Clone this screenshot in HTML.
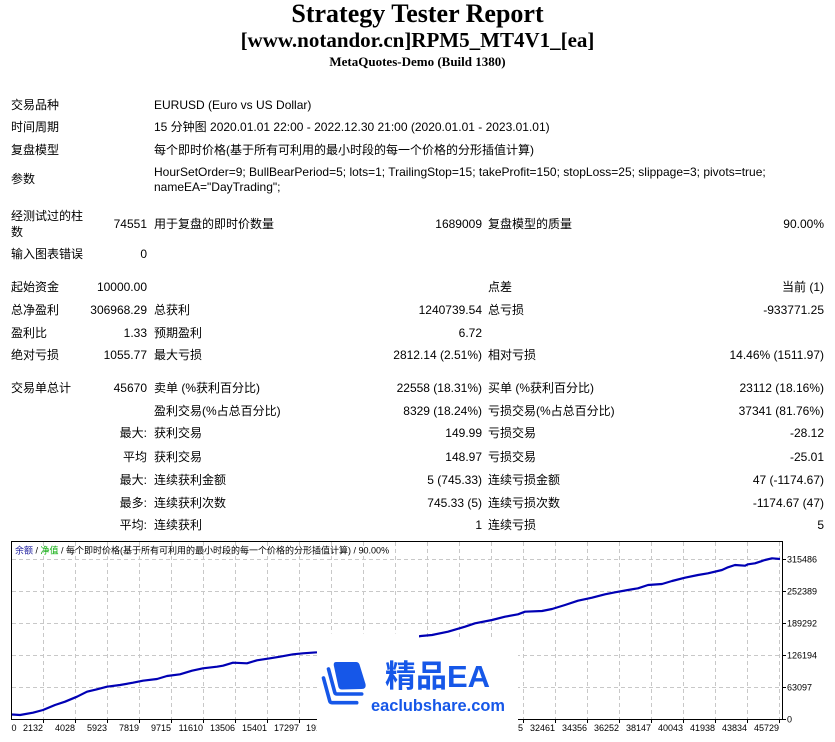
<!DOCTYPE html>
<html><head><meta charset="utf-8">
<style>
html,body{margin:0;padding:0;background:#fff;}
body{width:835px;height:742px;position:relative;overflow:hidden;}
.t{position:absolute;white-space:nowrap;font-family:"Liberation Sans","Noto Sans CJK SC",sans-serif;font-size:12px;line-height:15px;color:#000;}
.h{position:absolute;left:0;width:835px;text-align:center;font-family:"Liberation Serif",serif;font-weight:bold;color:#000;white-space:nowrap;}
.r{text-align:right;}
</style></head><body>
<div class="h" style="top:-1px;font-size:26px;line-height:30px;">Strategy Tester Report</div>
<div class="h" style="top:27.6px;font-size:21px;line-height:24px;">[www.notandor.cn]RPM5_MT4V1_[ea]</div>
<div class="h" style="top:54.3px;font-size:13px;line-height:16px;">MetaQuotes-Demo (Build 1380)</div>

<div class="t" style="left:11px;top:97.5px">交易品种</div>
<div class="t" style="left:154px;top:97.5px">EURUSD (Euro vs US Dollar)</div>

<div class="t" style="left:11px;top:120px">时间周期</div>
<div class="t" style="left:154px;top:120px">15 分钟图 2020.01.01 22:00 - 2022.12.30 21:00 (2020.01.01 - 2023.01.01)</div>

<div class="t" style="left:11px;top:142.5px">复盘模型</div>
<div class="t" style="left:154px;top:142.5px">每个即时价格(基于所有可利用的最小时段的每一个价格的分形插值计算)</div>

<div class="t" style="left:11px;top:172px">参数</div>
<div class="t" style="left:154px;top:164.5px">HourSetOrder=9; BullBearPeriod=5; lots=1; TrailingStop=15; takeProfit=150; stopLoss=25; slippage=3; pivots=true;<br>nameEA="DayTrading";</div>

<div class="t" style="left:11px;top:209px;line-height:15.5px">经测试过的柱<br>数</div>
<div class="t r" style="right:688px;top:217px">74551</div>
<div class="t" style="left:154px;top:217px">用于复盘的即时价数量</div>
<div class="t r" style="right:353px;top:217px">1689009</div>
<div class="t" style="left:488px;top:217px">复盘模型的质量</div>
<div class="t r" style="right:11px;top:217px">90.00%</div>

<div class="t" style="left:11px;top:247px">输入图表错误</div>
<div class="t r" style="right:688px;top:247px">0</div>

<div class="t" style="left:11px;top:279.5px">起始资金</div>
<div class="t r" style="right:688px;top:279.5px">10000.00</div>
<div class="t" style="left:488px;top:279.5px">点差</div>
<div class="t r" style="right:11px;top:279.5px">当前 (1)</div>

<div class="t" style="left:11px;top:302.5px">总净盈利</div>
<div class="t r" style="right:688px;top:302.5px">306968.29</div>
<div class="t" style="left:154px;top:302.5px">总获利</div>
<div class="t r" style="right:353px;top:302.5px">1240739.54</div>
<div class="t" style="left:488px;top:302.5px">总亏损</div>
<div class="t r" style="right:11px;top:302.5px">-933771.25</div>

<div class="t" style="left:11px;top:325.5px">盈利比</div>
<div class="t r" style="right:688px;top:325.5px">1.33</div>
<div class="t" style="left:154px;top:325.5px">预期盈利</div>
<div class="t r" style="right:353px;top:325.5px">6.72</div>

<div class="t" style="left:11px;top:348px">绝对亏损</div>
<div class="t r" style="right:688px;top:348px">1055.77</div>
<div class="t" style="left:154px;top:348px">最大亏损</div>
<div class="t r" style="right:353px;top:348px">2812.14 (2.51%)</div>
<div class="t" style="left:488px;top:348px">相对亏损</div>
<div class="t r" style="right:11px;top:348px">14.46% (1511.97)</div>

<div class="t" style="left:11px;top:380.5px">交易单总计</div>
<div class="t r" style="right:688px;top:380.5px">45670</div>
<div class="t" style="left:154px;top:380.5px">卖单 (%获利百分比)</div>
<div class="t r" style="right:353px;top:380.5px">22558 (18.31%)</div>
<div class="t" style="left:488px;top:380.5px">买单 (%获利百分比)</div>
<div class="t r" style="right:11px;top:380.5px">23112 (18.16%)</div>

<div class="t" style="left:154px;top:403.5px">盈利交易(%占总百分比)</div>
<div class="t r" style="right:353px;top:403.5px">8329 (18.24%)</div>
<div class="t" style="left:488px;top:403.5px">亏损交易(%占总百分比)</div>
<div class="t r" style="right:11px;top:403.5px">37341 (81.76%)</div>

<div class="t r" style="right:688px;top:426px">最大:</div>
<div class="t" style="left:154px;top:426px">获利交易</div>
<div class="t r" style="right:353px;top:426px">149.99</div>
<div class="t" style="left:488px;top:426px">亏损交易</div>
<div class="t r" style="right:11px;top:426px">-28.12</div>

<div class="t r" style="right:688px;top:449.5px">平均</div>
<div class="t" style="left:154px;top:449.5px">获利交易</div>
<div class="t r" style="right:353px;top:449.5px">148.97</div>
<div class="t" style="left:488px;top:449.5px">亏损交易</div>
<div class="t r" style="right:11px;top:449.5px">-25.01</div>

<div class="t r" style="right:688px;top:472.5px">最大:</div>
<div class="t" style="left:154px;top:472.5px">连续获利金额</div>
<div class="t r" style="right:353px;top:472.5px">5 (745.33)</div>
<div class="t" style="left:488px;top:472.5px">连续亏损金额</div>
<div class="t r" style="right:11px;top:472.5px">47 (-1174.67)</div>

<div class="t r" style="right:688px;top:495.5px">最多:</div>
<div class="t" style="left:154px;top:495.5px">连续获利次数</div>
<div class="t r" style="right:353px;top:495.5px">745.33 (5)</div>
<div class="t" style="left:488px;top:495.5px">连续亏损次数</div>
<div class="t r" style="right:11px;top:495.5px">-1174.67 (47)</div>

<div class="t r" style="right:688px;top:518px">平均:</div>
<div class="t" style="left:154px;top:518px">连续获利</div>
<div class="t r" style="right:353px;top:518px">1</div>
<div class="t" style="left:488px;top:518px">连续亏损</div>
<div class="t r" style="right:11px;top:518px">5</div>

<svg style="position:absolute;left:0;top:0" width="835" height="742" viewBox="0 0 835 742" xmlns="http://www.w3.org/2000/svg">
  <g stroke="#c8c8c8" stroke-width="1" stroke-dasharray="4 3" fill="none">
    <path d="M43.5 542V719M75.5 542V719M107.5 542V719M139.5 542V719M171.5 542V719M203.5 542V719M235.5 542V719M267.5 542V719M299.5 542V719M331.5 542V719M363.5 542V719M395.5 542V719M427.5 542V719M459.5 542V719M491.5 542V719M523.5 542V719M555.5 542V719M587.5 542V719M619.5 542V719M651.5 542V719M683.5 542V719M715.5 542V719M747.5 542V719M779.5 542V719"/>
    <path d="M12 559.5H782M12 591.5H782M12 623.5H782M12 655.5H782M12 687.5H782"/>
  </g>
  <g stroke="#000" stroke-width="1" fill="none">
    <path d="M11.5 541.5H782.5V719.5H11.5Z"/>
    <path d="M43.5 719V723M75.5 719V723M107.5 719V723M139.5 719V723M171.5 719V723M203.5 719V723M235.5 719V723M267.5 719V723M299.5 719V723M331.5 719V723M363.5 719V723M395.5 719V723M427.5 719V723M459.5 719V723M491.5 719V723M523.5 719V723M555.5 719V723M587.5 719V723M619.5 719V723M651.5 719V723M683.5 719V723M715.5 719V723M747.5 719V723M779.5 719V723"/>
    <path d="M782 559.5H786M782 591.5H786M782 623.5H786M782 655.5H786M782 687.5H786M782 719.5H786"/>
  </g>
  <polyline fill="none" stroke="#0000b4" stroke-width="2.2" stroke-linejoin="round" points="12,714.5 20,715 33,712.7 43,710 55,705 65,701.7 77,696.7 87,691.7 97,689.3 107,686.7 120,685 133,682.7 143,680.7 157,679 167,676 180,674.3 192,670.7 203,668.3 217,666.7 223,665.7 233,662.7 247,663.3 257,660.3 270,658.3 280,656.7 293,654.3 303,653.3 317,652.3 421,636 432,635 448,631.7 465,626.7 475,623.3 492,620 505,616.7 518,614.3 525,611.7 542,611 552,609 565,605 578,600.7 592,597.7 605,594.3 615,592.3 628,590 638,588.3 648,585 662,584 672,581 685,577.7 698,575 708,573.3 722,570 728,567.3 735,565 745,565.7 748,564.3 755,563.3 765,560 772,558.3 780,559"/>
  <text x="15" y="553.3" font-family="Liberation Sans, Noto Sans CJK SC, sans-serif" font-size="9" fill="#000"><tspan fill="#1a1a9c">余额</tspan> / <tspan fill="#00a800">净值</tspan> / 每个即时价格(基于所有可利用的最小时段的每一个价格的分形插值计算) / 90.00%</text>
  <g font-family="Liberation Sans, sans-serif" font-size="9" fill="#000">
    <text x="787" y="562.3">315486</text>
    <text x="787" y="594.3">252389</text>
    <text x="787" y="626.3">189292</text>
    <text x="787" y="658.3">126194</text>
    <text x="787" y="690.3">63097</text>
    <text x="787" y="722.3">0</text>
  </g>
  <g font-family="Liberation Sans, sans-serif" font-size="9" fill="#000" text-anchor="end">
    <text x="16.5" y="731">0</text>
    <text x="43" y="731">2132</text><text x="75" y="731">4028</text><text x="107" y="731">5923</text><text x="139" y="731">7819</text>
    <text x="171" y="731">9715</text><text x="203" y="731">11610</text><text x="235" y="731">13506</text><text x="267" y="731">15401</text>
    <text x="299" y="731">17297</text><text x="331" y="731">19192</text><text x="363" y="731">21088</text><text x="395" y="731">22984</text>
    <text x="427" y="731">24879</text><text x="459" y="731">26775</text><text x="491" y="731">28670</text><text x="523" y="731">30565</text>
    <text x="555" y="731">32461</text><text x="587" y="731">34356</text><text x="619" y="731">36252</text><text x="651" y="731">38147</text>
    <text x="683" y="731">40043</text><text x="715" y="731">41938</text><text x="747" y="731">43834</text><text x="779" y="731">45729</text>
  </g>
  <!-- watermark -->
  <path d="M317 633.5H419V638H518V742H317Z" fill="#fff"/>
  <path d="M336 662L356 662Q358.5 662 359.5 664.5L365.5 684Q366.5 689 361.5 689L342 689.5Q339 689.5 338.3 686.5L333.8 665.5Q333.3 662 336 662Z" fill="#1657e8"/>
  <path d="M328.5 669L334.8 692.5Q335.3 694 337 694L361.7 694" fill="none" stroke="#1657e8" stroke-width="3.6" stroke-linecap="round" stroke-linejoin="round"/>
  <path d="M323.5 678L329.8 701.2Q330.3 702.7 332 702.7L356.7 702.7" fill="none" stroke="#1657e8" stroke-width="3.6" stroke-linecap="round" stroke-linejoin="round"/>
  <text x="385" y="687" font-family="Liberation Sans, Noto Sans CJK SC, sans-serif" font-size="31" font-weight="bold" fill="#1657e8">精品EA</text>
  <text x="371" y="711" font-family="Liberation Sans, sans-serif" font-size="16.4" font-weight="bold" fill="#1657e8">eaclubshare.com</text>
</svg>
</body></html>
